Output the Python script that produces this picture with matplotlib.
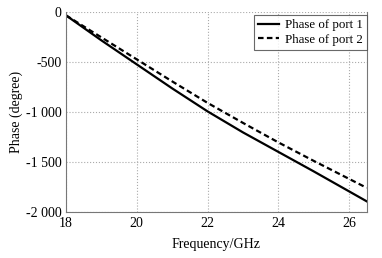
import matplotlib
matplotlib.use("Agg")
import matplotlib.pyplot as plt

freq = [18, 19, 20, 21, 22, 23, 24, 25, 26, 26.5]
phase_port1 = [-30, -280, -520, -760, -990, -1200, -1395, -1590, -1790, -1890]
phase_port2 = [-30, -250, -470, -690, -905, -1105, -1300, -1485, -1665, -1755]
xticks = [18, 20, 22, 24, 26]
yticks = [0, -500, -1000, -1500, -2000]
ytick_labels = ["0", "-500", "-1 000", "-1 500", "-2 000"]

plt.rcParams['font.family'] = ['Liberation Serif', 'DejaVu Serif']

fig = plt.figure(figsize=(3.82, 2.58), dpi=100)
ax = fig.add_axes([0.1728, 0.177, 0.7872, 0.775])

ax.plot(freq, phase_port1, color='black', lw=1.6, ls='-', label='Phase of port 1')
ax.plot(freq, phase_port2, color='black', lw=1.6, ls=(0, (2.5, 1.5)), label='Phase of port 2')

ax.set_xlim(18, 26.5)
ax.set_ylim(-2000, 0)
ax.set_xticks(xticks)
ax.set_xticklabels([str(t) for t in xticks])
ax.set_yticks(yticks)
ax.set_yticklabels(ytick_labels)
ax.tick_params(length=0, labelsize=10, pad=3, colors='black')
ax.grid(True, ls=':', color='#aaaaaa', lw=0.8)
for s in ax.spines.values():
    s.set_color('#777777')
    s.set_linewidth(0.8)
ax.spines['top'].set_visible(False)

ax.set_xlabel('Frequency/GHz', fontsize=10, labelpad=6)
ax.set_ylabel('Phase (degree)', fontsize=10, labelpad=2)

leg = ax.legend(loc='upper right', bbox_to_anchor=(1.0, 0.985), fontsize=9.3,
                frameon=True, fancybox=False, edgecolor='#444444',
                handlelength=1.6, borderpad=0.3, labelspacing=0.2,
                handletextpad=0.5, borderaxespad=0.0)
leg.get_frame().set_linewidth(0.8)

fig.savefig('out.png', dpi=100)
